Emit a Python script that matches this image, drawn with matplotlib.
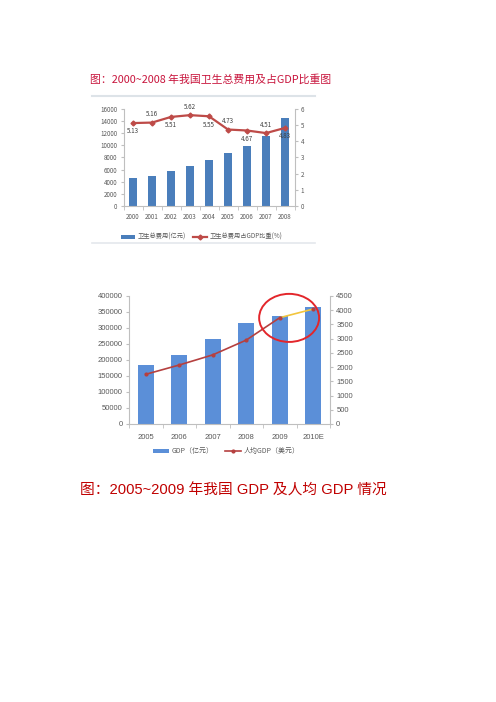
import matplotlib
matplotlib.use('Agg')
import matplotlib.pyplot as plt
from matplotlib.patches import Ellipse
from matplotlib.lines import Line2D

plt.rcParams['font.family'] = ['Noto Sans CJK SC', 'DejaVu Sans']

# top chart: health expenditure 2000-2008
years_top = ['2000', '2001', '2002', '2003', '2004', '2005', '2006', '2007', '2008']
health_cost = [4587, 5026, 5790, 6584, 7590, 8660, 9843, 11574, 14535]
health_share = [5.13, 5.16, 5.51, 5.62, 5.55, 4.73, 4.67, 4.51, 4.83]
top_yticks = list(range(0, 16001, 2000))
top_y2ticks = [0, 1, 2, 3, 4, 5, 6]

# bottom chart: GDP 2005-2010E
years_bottom = ['2005', '2006', '2007', '2008', '2009', '2010E']
gdp = [184000, 215000, 265000, 314500, 336500, 365600]
gdp_per_capita = [1747, 2074, 2430, 2950, 3737, 4043]
bottom_yticks = list(range(0, 400001, 50000))
bottom_y2ticks = list(range(0, 4501, 500))

W, H = 496, 702
fig = plt.figure(figsize=(W / 100, H / 100), dpi=100)


def box(x0, y0, x1, y1):
    return [x0 / W, 1 - y1 / H, (x1 - x0) / W, (y1 - y0) / H]


def fy(y):
    return 1 - y / H


def tidy(ax, ax2, n, fs, tc, xpad):
    for a in (ax, ax2):
        for s in a.spines.values():
            s.set_visible(False)
    ax.spines['left'].set_visible(True)
    ax.spines['bottom'].set_visible(True)
    ax2.spines['right'].set_visible(True)
    for s in (ax.spines['left'], ax.spines['bottom'], ax2.spines['right']):
        s.set_color('#BFBFBF')
        s.set_linewidth(0.8)
    ax.set_xlim(-0.5, n - 0.5)
    ax.set_xticks([i - 0.5 for i in range(n + 1)], minor=True)
    ax.tick_params(axis='x', which='major', length=0, labelsize=fs, colors=tc, pad=xpad)
    ax.tick_params(axis='x', which='minor', length=3, color='#BFBFBF')
    ax.tick_params(axis='y', length=2.5, color='#BFBFBF', labelsize=fs, colors=tc, pad=2)
    ax2.tick_params(axis='y', length=2.5, color='#BFBFBF', labelsize=fs, colors=tc, pad=2)
    ax.patch.set_alpha(0)


# ---------------- top chart ----------------
fig.text(90 / W, fy(80), '图：2000~2008 年我国卫生总费用及占GDP比重图',
         color='#C8143C', fontsize=7.8, va='center')
fig.add_artist(Line2D([92 / W, 315 / W], [fy(96), fy(96)], color='#DDE3E8', lw=1.5))
fig.add_artist(Line2D([92 / W, 315 / W], [fy(243), fy(243)], color='#E4E8EC', lw=1.2))

ax1 = fig.add_axes(box(123.5, 109, 294.5, 206))
x1 = list(range(len(years_top)))
b1 = ax1.bar(x1, health_cost, width=0.45, color='#4A7EBB', label='卫生总费用(亿元)')
ax1.set_ylim(0, 16000)
ax1.set_yticks(top_yticks)
ax1.set_xticks(x1, years_top)
ax1b = ax1.twinx()
l1, = ax1b.plot(x1, health_share, color='#BE4B48', lw=1.6, marker='D', ms=2.5,
                label='卫生总费用占GDP比重(%)')
ax1b.set_ylim(0, 6)
ax1b.set_yticks(top_y2ticks)
tidy(ax1, ax1b, len(years_top), 4.5, '#595959', 5)
sides = [-1, 1, -1, 1, -1, 1, -1, 1, -1]
for xi, v, s in zip(x1, health_share, sides):
    ax1b.annotate(f'{v:.2f}', (xi, v), xytext=(0, 6 * s), textcoords='offset points',
                  ha='center', va='center', fontsize=4.5, color='#404040')
fig.legend([b1, l1], [b1.get_label(), l1.get_label()], loc='center',
           bbox_to_anchor=(202 / W, fy(237)), ncol=2, frameon=False, fontsize=4.5,
           handlelength=2.2, handleheight=0.5, columnspacing=1.2, handletextpad=0.4,
           labelcolor='#595959')

# ---------------- bottom chart ----------------
ax2 = fig.add_axes(box(129, 296, 330, 424))
x2 = list(range(len(years_bottom)))
b2 = ax2.bar(x2, gdp, width=0.48, color='#5B8FD8', label='GDP（亿元）')
ax2.set_ylim(0, 400000)
ax2.set_yticks(bottom_yticks)
ax2.set_xticks(x2, years_bottom)
ax2b = ax2.twinx()
ax2b.plot(x2[:-1], gdp_per_capita[:-1], color='#B5403F', lw=1.2)
ax2b.plot(x2[-2:], gdp_per_capita[-2:], color='#F2C53D', lw=1.2)
l2, = ax2b.plot(x2, gdp_per_capita, color='#B5403F', lw=0, marker='o', ms=2,
                label='人均GDP（美元）')
ax2b.set_ylim(0, 4500)
ax2b.set_yticks(bottom_y2ticks)
tidy(ax2, ax2b, len(years_bottom), 5.5, '#595959', 7)
for a in (ax2, ax2b):
    for t in a.get_yticklabels() + a.get_xticklabels():
        t.set_family(['Liberation Sans', 'DejaVu Sans'])

ax2b.add_patch(Ellipse((x2[4] + 0.28, 3730), width=1.79, height=1690,
                       fill=False, edgecolor='#E3262B', lw=1.4, zorder=5,
                       clip_on=False))

h_line = Line2D([], [], color='#B5403F', lw=1.2, marker='o', ms=2)
fig.legend([b2, h_line], [b2.get_label(), l2.get_label()], loc='center',
           bbox_to_anchor=(226 / W, fy(451)), ncol=2, frameon=False, fontsize=5,
           handlelength=2.4, handleheight=0.5, columnspacing=1.6, handletextpad=0.3,
           labelcolor='#595959')

fig.text(80 / W, fy(490), '图：2005~2009 年我国 GDP 及人均 GDP 情况',
         color='#C00000', fontsize=10.6, va='center',
         family=['Liberation Sans', 'Noto Sans CJK SC'])

fig.savefig('out.png', dpi=100)
